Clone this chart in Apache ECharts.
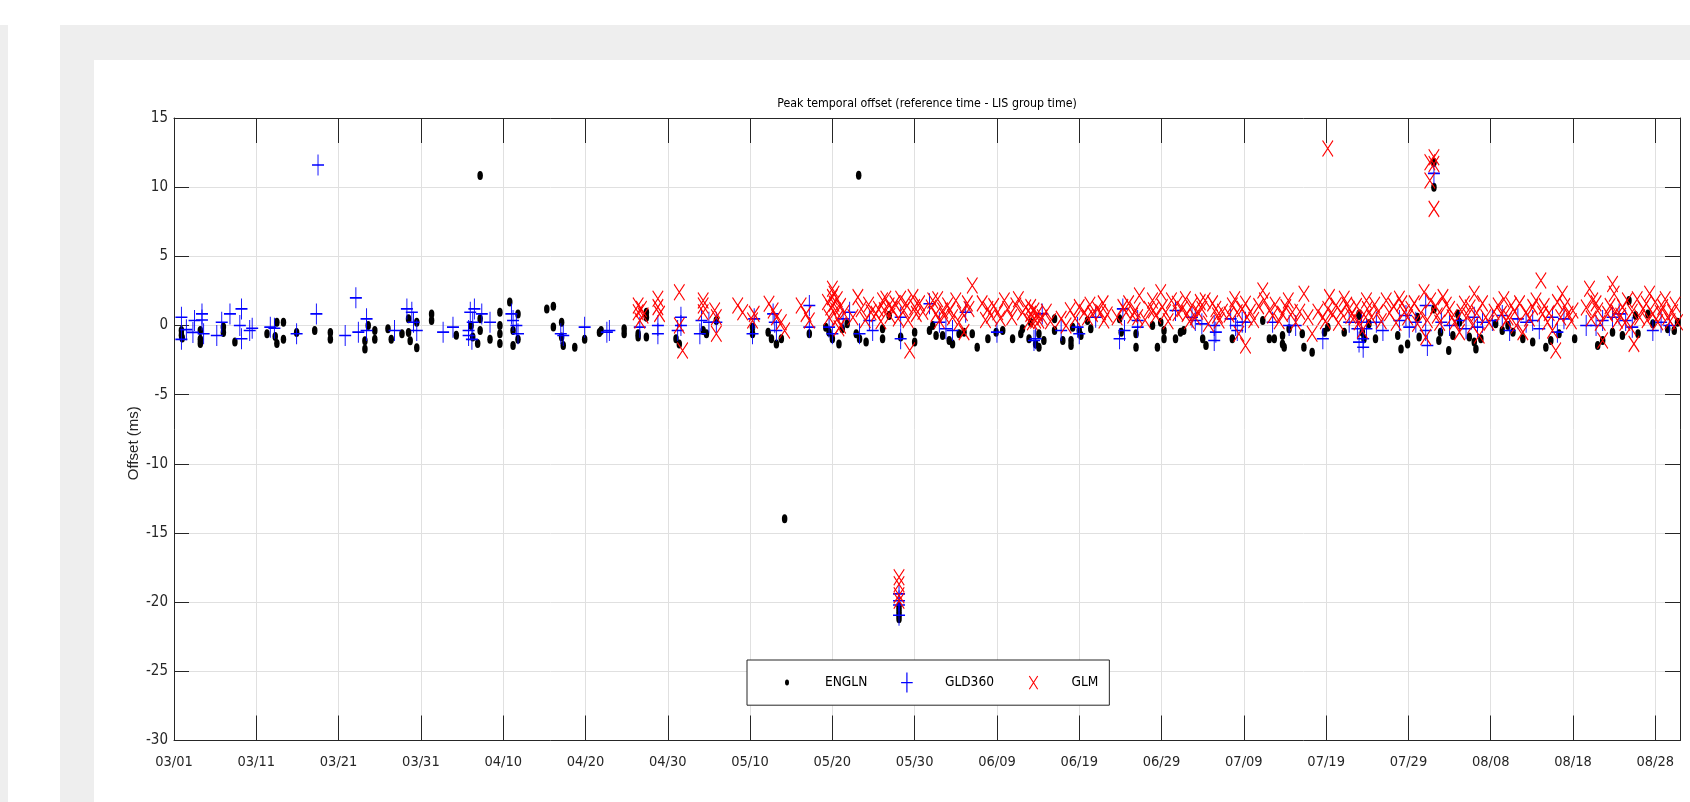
<!DOCTYPE html>
<html>
<head>
<meta charset="utf-8">
<script src="https://cdn.jsdelivr.net/npm/echarts@6.0.0/dist/echarts.min.js"></script>
<style>
  html, body { margin: 0; padding: 0; width: 1690px; height: 802px; overflow: hidden; background: #ffffff; }
  .bg { position: absolute; }
  #strip { left: 0; top: 25px; width: 8px; bottom: 0; background: #eeeeee; }
  #panel { left: 60px; top: 25px; right: 0; bottom: 0; background: #eeeeee; }
  #inner { left: 94px; top: 60px; right: 0; bottom: 0; background: #ffffff; }
  #chart { position: absolute; left: 0; top: 0; width: 1690px; height: 802px; }
</style>
</head>
<body>
<div class="bg" id="strip"></div>
<div class="bg" id="panel"></div>
<div class="bg" id="inner"></div>
<div id="chart"></div>
<script>
// x values are days since 03/01
const xTickLabels = ['03/01','03/11','03/21','03/31','04/10','04/20','04/30','05/10','05/20','05/30',
  '06/09','06/19','06/29','07/09','07/19','07/29','08/08','08/18','08/28'];
const yTicks = [-30, -25, -20, -15, -10, -5, 0, 5, 10, 15];
const seriesNames = ['ENGLN', 'GLD360', 'GLM'];

const englnPoints = [
  [0.9,-0.36],[0.9,-0.7],[1.0,-0.9],[3.2,-0.36],[3.2,-1.0],[3.2,-1.3],[6.0,-0.1],[6.0,-0.5],[7.4,-1.2],
  [11.3,-0.6],[12.5,0.24],[13.3,0.24],[12.3,-0.8],[12.5,-1.3],[13.3,-1.0],[14.9,-0.5],[17.1,-0.36],
  [19.0,-0.5],[19.0,-1.0],[23.2,-1.1],[23.2,-1.7],[23.6,0.0],[24.4,-0.36],[24.4,-1.0],[26.0,-0.24],
  [26.4,-1.0],[27.7,-0.6],[28.5,0.48],[28.5,-0.5],[28.7,-1.1],[29.5,0.24],[29.5,-1.6],[31.3,0.84],
  [31.3,0.36],[34.3,-0.7],[36.1,0.0],[36.3,-0.84],[36.9,-1.3],[37.2,0.48],[37.2,-0.36],[38.4,-1.0],
  [39.6,0.96],[39.6,0.0],[39.6,-0.6],[39.6,-1.3],[40.8,1.7],[41.2,-0.36],[41.2,-1.45],[41.8,0.84],
  [41.8,-1.0],[45.3,1.2],[46.1,1.4],[46.1,-0.1],[47.1,0.24],[47.1,-0.84],[47.3,-1.45],[48.7,-1.57],
  [49.9,-1.0],[51.7,-0.5],[37.2,10.84],
  [51.9,-0.36],[54.7,-0.24],[54.7,-0.6],[56.4,-0.84],[56.4,-0.6],[57.4,0.96],[57.4,0.6],[57.4,-0.84],
  [61.0,-0.96],[61.4,-1.33],[64.3,-0.36],[64.7,-0.6],[65.9,0.36],[70.3,-0.12],[70.3,-0.6],[72.2,-0.48],
  [72.6,-0.96],[73.2,-1.33],[73.8,-0.96],[77.2,-0.6],[79.2,-0.12],[79.6,-0.48],[80.0,-0.96],[80.8,-1.33],
  [81.2,-0.24],[81.8,0.12],[82.9,-0.6],[83.3,-0.96],[84.1,-1.2],[86.1,-0.24],[86.1,-0.96],[86.9,0.72],
  [88.3,-0.84],[90.0,-0.48],[90.0,-1.2],[91.8,-0.36],[92.2,0.0],[92.6,-0.72],[93.4,-0.72],[94.2,-1.08],
  [94.6,-1.33],[95.4,-0.6],[96.0,-0.48],[97.0,-0.6],[97.6,-1.57],[98.9,-0.96],[99.9,-0.48],[100.7,-0.36],
  [101.9,-0.96],[102.9,-0.6],[103.1,-0.24],[103.9,-0.96],[104.7,-1.33],
  [74.2,-13.97],[83.2,10.87],[88.1,-20.3],[88.1,-20.6],[88.1,-20.9],[88.1,-21.2],
  [104.1,0.24],[105.1,-0.6],[105.1,-1.57],[105.7,-1.08],[107.0,0.48],[107.0,-0.36],[108.0,-1.08],
  [109.0,-1.08],[109.0,-1.45],[109.2,-0.12],[110.0,-0.36],[110.2,-0.72],[111.0,0.36],[111.4,-0.24],
  [114.9,0.48],[115.1,-0.48],[116.9,-0.6],[116.9,-1.57],[118.9,0.0],[119.5,-1.57],[119.9,0.24],
  [120.3,-0.36],[120.3,-0.96],[121.7,-0.96],[122.3,-0.48],[122.7,-0.36],[125.0,-0.96],[125.4,-1.45],
  [128.6,-0.96],[132.3,0.36],[133.1,-0.96],[133.7,-0.96],[134.7,-1.33],[134.9,-1.57],[134.7,-0.72],
  [135.5,-0.24],[137.1,-0.6],[137.3,-1.57],[138.3,-1.93],[139.8,-0.48],[140.2,-0.12],[142.2,-0.48],
  [144.0,0.84],[144.4,-0.48],
  [144.0,0.72],[144.6,-0.96],[145.2,0.12],[146.0,-0.96],[148.7,-0.72],[149.1,-1.69],[149.9,-1.33],
  [151.1,0.6],[151.3,-0.84],[153.1,1.2],[153.9,-0.48],[153.7,-1.08],[154.9,-1.81],[155.4,-0.72],
  [156.0,0.84],[156.2,0.24],[157.4,-0.84],[158.0,-1.2],[158.2,-1.69],[158.8,-0.96],[160.6,0.12],
  [161.4,-0.36],[162.1,0.0],[162.7,-0.48],[163.9,-0.96],[165.1,-1.2],[166.7,-1.57],[167.3,-1.08],
  [168.3,-0.6],[170.2,-0.96],[173.0,-1.45],[173.6,-1.08],[174.8,-0.48],[176.0,-0.72],[176.8,1.81],
  [177.6,0.72],[177.9,-0.6],[179.1,0.84],[179.7,0.12],[181.5,-0.24],[182.3,-0.36],[182.7,0.24],
  [153.1,11.8],[153.1,10.0]
];

const gld360Points = [
  [0.9,0.6],[0.9,-1.0],[1.5,-0.3],[2.5,0.36],[2.3,-0.5],[3.4,0.84],[3.4,0.4],[3.6,-0.6],[5.2,-0.72],
  [5.8,0.24],[6.8,0.84],[8.2,1.2],[8.0,0.0],[9.2,-0.36],[8.2,-0.96],[9.5,-0.2],[11.7,-0.12],[12.2,-0.2],
  [14.9,-0.6],[17.3,0.84],[20.8,-0.72],[22.1,2.0],[23.4,0.48],[22.4,-0.48],[23.4,-0.36],[26.8,-0.36],
  [28.3,1.2],[28.9,0.96],[29.1,0.24],[29.5,-0.36],[32.7,-0.48],[33.9,-0.12],[36.0,0.96],[36.5,1.2],
  [37.4,0.84],[36.3,0.24],[35.8,-0.36],[35.8,-0.72],[36.2,-1.0],[38.4,0.24],[41.0,0.84],[41.2,0.36],
  [41.6,0.0],[41.8,-0.6],[47.3,-0.72],[47.0,-0.6],[49.9,-0.12],[52.6,-0.48],[17.5,11.6],
  [52.9,-0.36],[56.6,-0.12],[58.8,0.0],[58.8,-0.6],[61.2,-0.36],[61.6,0.0],[61.6,0.6],[64.1,0.36],
  [63.9,-0.6],[65.0,0.24],[65.9,0.24],[70.5,0.48],[70.3,-0.6],[72.8,0.84],[73.0,0.24],[73.2,-0.36],
  [77.2,1.45],[77.2,-0.12],[79.6,-0.12],[80.0,-0.6],[81.3,0.48],[82.1,0.96],[83.3,-0.6],[84.5,0.36],
  [84.9,-0.36],[88.3,0.6],[88.3,-0.96],[91.8,1.57],[93.0,0.24],[93.8,-0.24],[94.6,-0.36],[96.2,0.96],
  [100.0,-0.48],[104.5,-1.08],
  [88.1,-19.4],[88.1,-19.9],[88.1,-20.2],[88.1,-20.95],
  [104.7,-0.96],[105.5,0.84],[107.8,-0.36],[109.8,-0.12],[110.0,-0.6],[112.0,0.6],[115.3,1.2],
  [115.5,-0.36],[114.9,-0.96],[117.1,0.36],[117.1,-0.12],[121.7,1.08],[123.7,0.6],[124.1,0.36],
  [124.9,0.12],[126.4,0.0],[126.6,-0.48],[126.4,-1.08],[128.4,0.48],[129.0,0.0],[129.2,-0.36],
  [129.8,0.24],[130.2,0.24],[133.5,0.24],[135.5,0.0],[136.3,0.0],[139.6,-0.96],[142.8,0.24],
  [143.8,-0.24],[144.0,-1.2],[153.1,11.0],
  [144.3,0.24],[144.9,-0.24],[146.1,0.24],[146.9,-0.36],[144.5,-0.96],[144.5,-1.57],[148.9,0.36],
  [149.7,0.72],[150.1,-0.12],[150.9,0.24],[152.1,1.45],[152.1,-0.36],[152.3,-1.45],[154.0,0.24],
  [155.0,0.0],[156.2,0.36],[157.0,-0.24],[158.0,0.6],[158.4,-0.12],[159.0,0.24],[160.2,0.36],
  [161.4,0.72],[162.3,-0.36],[163.3,0.48],[164.3,0.24],[165.1,0.36],[165.9,-0.24],[167.5,0.6],
  [168.1,-0.48],[168.9,0.48],[171.6,0.0],[172.8,0.0],[173.6,0.36],[174.8,0.6],[175.6,0.84],
  [176.4,0.36],[177.2,-0.12],[179.7,-0.36],[180.7,0.24],[181.7,0.0]
];

const glmPoints = [
  [56.4,1.45],[56.4,0.96],[56.8,1.2],[56.6,0.36],[57.0,0.72],[58.8,1.93],[58.8,1.33],[59.0,0.84],
  [61.4,2.41],[61.4,0.0],[61.8,-1.81],[64.3,1.81],[64.3,1.45],[64.3,0.96],[65.7,1.08],[65.9,0.6],
  [65.9,-0.6],[68.5,1.45],[69.1,0.96],[70.5,0.84],[70.3,0.36],[72.3,1.57],[72.8,1.08],[73.2,0.6],
  [73.8,0.24],[74.2,-0.36],[76.2,1.45],[76.8,0.84],[77.2,0.36],[80.0,2.65],[80.0,2.05],[80.2,1.57],
  [80.4,1.08],[80.6,0.48],[81.0,0.0],[82.5,0.6],[83.1,2.05],[84.7,0.96],[85.3,0.84],[86.1,1.81],
  [86.5,1.93],[86.9,1.45],[87.3,1.2],[88.3,1.93],[88.7,1.08],[89.4,-1.81],[89.8,2.05],[90.0,1.33],
  [90.2,0.84],[92.2,1.81],[92.6,0.84],[93.0,0.36],[93.4,1.08],[94.0,1.45],[94.6,0.6],[95.4,0.24],
  [96.0,-0.48],[97.0,2.89],[96.6,1.2],[98.9,1.2],[99.3,0.72],[100.1,0.96],[100.9,1.81],[102.3,1.45],
  [103.1,0.96],[104.1,0.84],[104.7,0.36],
  [79.4,1.7],[79.8,1.3],[80.2,2.3],[80.6,1.9],[81.0,1.4],[81.4,0.9],[79.6,0.6],[80.8,-0.2],
  [83.5,1.2],[84.0,0.4],[84.4,1.5],[85.6,1.2],[85.9,0.3],
  [86.3,1.1],[87.0,0.7],[87.6,1.6],[88.0,0.5],[88.9,1.6],[89.2,0.4],[90.6,1.6],[91.0,1.0],
  [92.0,1.3],[92.8,1.9],[93.6,0.7],[94.3,1.1],[95.0,1.8],[95.8,0.9],[96.4,1.6],
  [98.2,1.6],[98.6,0.4],[99.6,1.4],[100.4,0.5],[101.3,1.2],[101.8,0.6],[102.6,1.9],[103.5,1.3],[103.9,0.3],
  [88.1,-18.2],[88.1,-18.7],[88.1,-19.5],[88.1,-19.9],
  [104.1,1.33],[104.5,1.08],[104.9,0.84],[105.1,0.36],[105.5,0.6],[104.3,0.24],[107.8,0.48],[108.4,0.0],
  [110.0,1.33],[110.6,0.96],[111.0,0.6],[111.6,0.84],[112.2,1.2],[112.6,0.96],[113.0,0.36],[115.3,1.33],
  [115.7,0.96],[117.1,0.6],[117.3,2.17],[116.5,0.72],[118.5,1.2],[118.9,1.81],[119.3,0.72],[119.9,2.41],
  [120.1,1.33],[120.5,0.96],[121.9,1.57],[122.5,1.2],[123.1,0.84],[123.7,1.45],[124.1,0.6],[124.7,1.69],
  [124.9,1.2],[125.7,0.12],[126.6,1.2],[126.8,0.72],[127.0,0.36],[128.6,1.45],[129.2,0.96],[129.8,1.2],
  [130.2,1.57],[130.4,0.6],[129.4,-0.6],[130.2,-1.45],[132.3,2.53],[132.5,1.81],[133.1,1.08],[133.5,0.72],
  [134.7,0.84],[135.1,1.33],[135.9,0.96],[136.3,0.24],[137.3,2.29],[138.3,-0.6],[139.6,0.6],[140.2,1.2],
  [140.4,2.05],[141.2,1.45],[141.8,0.96],[142.2,1.93],[142.8,1.2],[143.4,0.6],[144.0,0.24],[144.4,-0.36],
  [144.8,0.6],[140.2,12.8],
  [106.0,1.0],[106.5,0.3],[108.9,1.1],[109.5,0.5],[111.3,1.5],[112.9,1.6],[113.4,0.8],
  [114.6,0.6],[116.0,1.6],[116.8,1.1],[118.0,0.4],[119.0,1.1],[120.8,0.3],[121.2,1.8],
  [122.0,0.9],[122.9,1.9],[123.4,0.3],[124.4,1.0],[125.3,1.8],[126.2,1.6],[127.4,1.0],[128.2,0.8],
  [128.9,1.9],[130.8,1.0],[131.2,0.4],
  [131.8,1.4],[133.8,1.5],[134.3,0.3],[135.4,1.8],[136.8,1.0],[137.8,0.6],[139.0,1.0],[139.9,0.3],
  [140.8,0.8],[141.5,0.2],[142.5,1.5],[143.0,0.7],[143.7,1.4],
  [144.9,1.81],[145.5,0.6],[146.3,0.96],[147.3,1.81],[148.9,1.93],[149.5,0.96],[150.3,1.2],[151.1,0.12],
  [151.9,2.41],[152.1,-0.84],[152.7,1.81],[153.5,0.72],[154.2,2.05],[155.0,1.2],[155.6,0.24],[156.2,-0.48],
  [156.8,1.57],[157.2,0.72],[158.0,2.29],[157.8,0.0],[158.6,-0.72],[159.4,0.6],[160.9,1.45],[161.3,0.84],
  [161.9,0.36],[162.5,1.45],[163.1,0.0],[163.9,-0.48],[164.3,0.96],[165.1,1.33],[166.1,3.25],[166.3,0.84],
  [166.9,0.24],[167.5,-0.36],[168.1,1.69],[168.7,2.29],[167.9,-1.81],[169.4,0.84],[170.0,1.08],[172.0,2.65],
  [172.4,1.81],[173.0,1.08],[173.6,-1.08],[174.2,0.84],[174.8,3.0],[175.0,2.29],[175.4,0.36],[176.0,1.33],
  [176.6,1.81],[177.0,-0.12],[177.4,-1.33],[178.1,0.6],[178.9,1.57],[179.3,2.29],[179.7,0.84],[180.3,0.24],
  [180.9,1.33],[181.5,0.6],[182.1,0.96],[182.7,0.24],
  [145.0,1.2],[145.9,1.5],[146.7,0.3],[147.7,0.9],[148.2,1.4],[148.5,0.2],[149.2,1.6],[149.9,0.6],
  [150.7,1.6],[151.5,0.9],[152.3,0.4],[153.3,1.4],[153.8,0.2],
  [154.6,1.5],[155.3,0.6],[156.5,1.0],[157.5,1.3],[158.3,0.9],[159.0,1.6],[159.8,0.2],[160.4,1.0],
  [161.6,1.9],[162.1,0.6],[162.9,1.0],
  [163.5,1.6],[164.7,0.5],[165.5,1.8],[166.5,1.4],[167.1,0.9],[168.5,0.6],[169.0,1.4],[169.8,0.3],
  [171.6,1.3],[172.2,0.5],[172.8,1.6],[173.3,0.2],[174.5,1.4],[175.2,1.0],[175.8,0.7],[176.3,0.2],
  [177.2,1.0],[177.8,1.9],[178.5,1.2],[179.0,0.4],[180.0,1.7],[180.6,0.9],[181.2,1.9],[181.8,0.3],[182.4,1.5],
  [153.1,12.16],[153.1,11.68],[152.6,11.8],[152.6,10.48],[153.1,8.43]
];

const narrow = "'Liberation Sans Narrow', 'DejaVu Sans Condensed', 'Liberation Sans', Arial, sans-serif";
const axisColor = '#262626';
const gridColor = '#e0e0e0';
const xMax = 183;

function xLabel(v) {
  if (Math.abs(v % 10) > 1e-6) return '';
  const s = xTickLabels[Math.round(v / 10)];
  return s === undefined ? '' : s;
}

const chart = echarts.init(document.getElementById('chart'), null, { renderer: 'canvas' });
const option = {
  backgroundColor: 'transparent',
  animation: false,
  title: {
    text: 'Peak temporal offset (reference time - LIS group time)',
    left: 922, top: 93, textAlign: 'center',
    textStyle: { fontFamily: narrow, fontSize: 12.3, fontWeight: 'normal', color: '#000' }
  },
  grid: { left: 174, top: 118, width: 1506, height: 622.5, outerBoundsMode: 'none', containLabel: false },
  xAxis: [
    {
      type: 'value', min: 0, max: xMax, interval: 10, position: 'bottom',
      axisLine: { show: true, onZero: false, lineStyle: { color: axisColor, width: 1 } },
      axisTick: { show: true, inside: true, length: 25, lineStyle: { color: axisColor, width: 1 } },
      axisLabel: { formatter: xLabel, fontFamily: narrow, fontSize: 14.5, color: axisColor, margin: 14 },
      splitLine: { show: true, lineStyle: { color: gridColor, width: 1 } }
    },
    {
      type: 'value', min: 0, max: xMax, interval: 10, position: 'top',
      axisLine: { show: true, onZero: false, lineStyle: { color: axisColor, width: 1 } },
      axisTick: { show: true, inside: true, length: 25, lineStyle: { color: axisColor, width: 1 } },
      axisLabel: { show: false },
      splitLine: { show: false }
    }
  ],
  yAxis: [
    {
      type: 'value', min: yTicks[0], max: yTicks[yTicks.length - 1], interval: 5, position: 'left',
      name: 'Offset (ms)', nameLocation: 'middle', nameGap: 33, nameMoveOverlap: false,
      nameTextStyle: { fontFamily: "'Liberation Sans', Arial, sans-serif", fontSize: 15, color: axisColor,
        padding: [0, 28, 0, 0] },
      axisLine: { show: true, onZero: false, lineStyle: { color: axisColor, width: 1 } },
      axisTick: { show: true, inside: true, length: 15, lineStyle: { color: axisColor, width: 1 } },
      axisLabel: { fontFamily: narrow, fontSize: 15, color: axisColor, margin: 6 },
      splitLine: { show: true, lineStyle: { color: gridColor, width: 1 } }
    },
    {
      type: 'value', min: yTicks[0], max: yTicks[yTicks.length - 1], interval: 5, position: 'right',
      axisLine: { show: true, onZero: false, lineStyle: { color: axisColor, width: 1 } },
      axisTick: { show: true, inside: true, length: 15, lineStyle: { color: axisColor, width: 1 } },
      axisLabel: { show: false },
      splitLine: { show: false }
    }
  ],
  legend: {
    left: 747, top: 660, orient: 'horizontal',
    padding: [12, 11, 12, 33], itemGap: 32, itemWidth: 14, itemHeight: 20,
    backgroundColor: '#ffffff', borderColor: axisColor, borderWidth: 1, borderRadius: 0,
    selectedMode: false,
    textStyle: { fontFamily: narrow, fontSize: 13.6, color: '#000', padding: [0, 0, 0, 26] },
    data: [
      { name: seriesNames[0], icon: 'path://M0 0M14 20M7 7A2 3 0 1 1 7 13A2 3 0 1 1 7 7Z',
        itemStyle: { color: '#000000', borderWidth: 0 } },
      { name: seriesNames[1], icon: 'path://M0 0M14 20M7 0L7 20M1.2 10L12.8 10',
        itemStyle: { color: 'transparent', borderColor: '#0000ff', borderWidth: 1.2 } },
      { name: seriesNames[2], icon: 'path://M0 0M14 20M2.8 3.4L11.2 16.6M11.2 3.4L2.8 16.6',
        itemStyle: { color: 'transparent', borderColor: '#ff0000', borderWidth: 1.1 } }
    ]
  },
  series: [
    {
      name: seriesNames[0], type: 'scatter', data: englnPoints,
      symbol: 'circle', symbolSize: [5.5, 9],
      itemStyle: { color: '#000000', opacity: 1 },
      emphasis: { disabled: true }
    },
    {
      name: seriesNames[1], type: 'scatter', data: gld360Points,
      symbol: 'path://M5 0L5 10M0 5L10 5', symbolSize: [12, 21],
      itemStyle: { color: 'transparent', borderColor: '#0000ff', borderWidth: 1.2, opacity: 1 },
      emphasis: { disabled: true }
    },
    {
      name: seriesNames[2], type: 'scatter', data: glmPoints,
      symbol: 'path://M0 0L10 10M10 0L0 10', symbolSize: [10.5, 16],
      itemStyle: { color: 'transparent', borderColor: '#ff0000', borderWidth: 1.2, opacity: 1 },
      emphasis: { disabled: true }
    }
  ]
};
chart.setOption(option);
</script>
</body>
</html>
